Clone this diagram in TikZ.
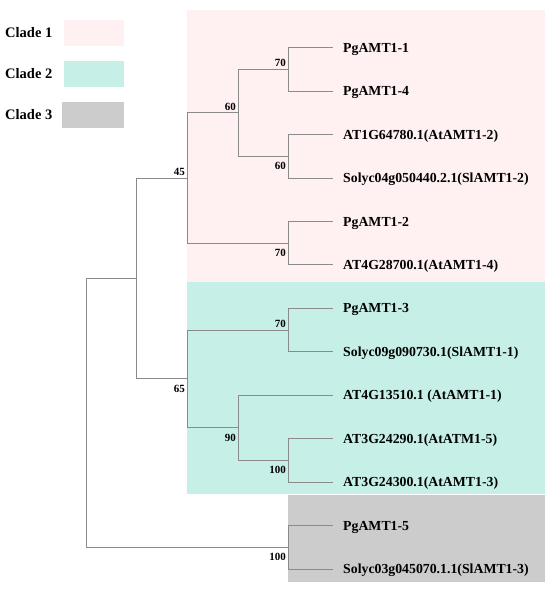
\documentclass[tikz,border=0pt]{standalone}
\usepackage{fontspec}
\setmainfont{Liberation Serif}
\usepackage{xcolor}
\usepackage{tikz}
\usetikzlibrary{positioning}

\definecolor{cladeone}{HTML}{FFF0F2}
\definecolor{cladetwo}{HTML}{C6F0E7}
\definecolor{cladethree}{HTML}{CCCCCC}
\definecolor{branchgray}{HTML}{8A8A8A}

\begin{document}
\begin{tikzpicture}[
  x=1pt, y=-1pt,
  branch/.style={draw=branchgray, line width=0.8pt},
  leaf/.style={
    font=\fontsize{13.8}{16}\selectfont\bfseries,
    inner sep=0pt,
    text height=9.4pt,
    text depth=0pt
  },
  bsabove/.style={
    font=\fontsize{11}{12}\selectfont\bfseries,
    anchor=south east, inner sep=0pt, xshift=-2pt, yshift=2pt
  },
  bsbelow/.style={
    font=\fontsize{11}{12}\selectfont\bfseries,
    anchor=north east, inner sep=0pt, xshift=-2pt, yshift=-6pt
  },
  legendtext/.style={
    font=\fontsize{14.5}{16}\selectfont\bfseries,
    anchor=west, inner sep=0pt
  },
  legendbox/.style={
    minimum width=60pt, minimum height=26pt, inner sep=0pt
  }
]

% page and clade backgrounds
\fill[white] (0,0) rectangle (550,589);
\fill[cladeone] (187,10) rectangle (545,282);
\fill[cladetwo] (187,282) rectangle (545,494);
\fill[cladethree] (288,495) rectangle (545,582);

% ================= Legend =================
\node[legendtext] (clade1_txt) at (5,33) {Clade 1};
\node[legendbox, fill=cladeone] (clade1_box) at (94,33) {};

\node[legendtext] (clade2_txt) at (5,74) {Clade 2};
\node[legendbox, fill=cladetwo] (clade2_box) at (94,74) {};

\node[legendtext] (clade3_txt) at (5,115) {Clade 3};
\node[legendbox, fill=cladethree, minimum width=62pt] (clade3_box) at (93,114.5) {};

% ================= Leaves =================
\coordinate (pg11_end) at (333,47.5);
\coordinate (pg14_end) at (333,91);
\coordinate (at12_end) at (333,134.4);
\coordinate (sl12_end) at (333,177.9);
\coordinate (pg12_end) at (333,221.3);
\coordinate (at14_end) at (333,264.8);
\coordinate (pg13_end) at (333,308.2);
\coordinate (sl11_end) at (333,351.7);
\coordinate (at11_end) at (333,395.1);
\coordinate (at15_end) at (333,438.6);
\coordinate (at13_end) at (333,482);
\coordinate (pg15_end) at (333,525.5);
\coordinate (sl13_end) at (333,569);

\node[leaf, right=10pt of pg11_end] (pg11) {PgAMT1-1};
\node[leaf, right=10pt of pg14_end] (pg14) {PgAMT1-4};
\node[leaf, right=10pt of at12_end] (at12) {AT1G64780.1(AtAMT1-2)};
\node[leaf, right=10pt of sl12_end] (sl12) {Solyc04g050440.2.1(SlAMT1-2)};
\node[leaf, right=10pt of pg12_end] (pg12) {PgAMT1-2};
\node[leaf, right=10pt of at14_end] (at14) {AT4G28700.1(AtAMT1-4)};
\node[leaf, right=10pt of pg13_end] (pg13) {PgAMT1-3};
\node[leaf, right=10pt of sl11_end] (sl11) {Solyc09g090730.1(SlAMT1-1)};
\node[leaf, right=10pt of at11_end] (at11) {AT4G13510.1 (AtAMT1-1)};
\node[leaf, right=10pt of at15_end] (at15) {AT3G24290.1(AtATM1-5)};
\node[leaf, right=10pt of at13_end] (at13) {AT3G24300.1(AtAMT1-3)};
\node[leaf, right=10pt of pg15_end] (pg15) {PgAMT1-5};
\node[leaf, right=10pt of sl13_end] (sl13) {Solyc03g045070.1.1(SlAMT1-3)};

% ================= Inner nodes =================
\coordinate (n_pg1114) at (288,69.3);
\coordinate (n_at12sl12) at (288,156.1);
\coordinate (n_top) at (238,112.7);
\coordinate (n_pg12at14) at (288,243);
\coordinate (n_clade1) at (187,177.9);
\coordinate (n_pg13sl11) at (288,329.9);
\coordinate (n_at15at13) at (288,460.3);
\coordinate (n_at) at (238,427.7);
\coordinate (n_clade2) at (187,378.8);
\coordinate (n_clade12) at (136,278.4);
\coordinate (n_clade3) at (288,547.3);
\coordinate (n_root) at (86,412.8);

% bootstrap values
\node[bsabove] (bs_pg1114) at (n_pg1114) {70};
\node[bsbelow] (bs_at12sl12) at (n_at12sl12) {60};
\node[bsabove] (bs_top) at (n_top) {60};
\node[bsbelow] (bs_pg12at14) at (n_pg12at14) {70};
\node[bsabove] (bs_clade1) at (n_clade1) {45};
\node[bsabove] (bs_pg13sl11) at (n_pg13sl11) {70};
\node[bsbelow] (bs_at15at13) at (n_at15at13) {100};
\node[bsbelow] (bs_at) at (n_at) {90};
\node[bsbelow] (bs_clade2) at (n_clade2) {65};
\node[bsbelow] (bs_clade3) at (n_clade3) {100};

% ================= Branches =================
\draw[branch] (n_pg1114) |- (pg11_end);
\draw[branch] (n_pg1114) |- (pg14_end);
\draw[branch] (n_at12sl12) |- (at12_end);
\draw[branch] (n_at12sl12) |- (sl12_end);
\draw[branch] (n_top) |- (n_pg1114);
\draw[branch] (n_top) |- (n_at12sl12);
\draw[branch] (n_pg12at14) |- (pg12_end);
\draw[branch] (n_pg12at14) |- (at14_end);
\draw[branch] (n_clade1) |- (n_top);
\draw[branch] (n_clade1) |- (n_pg12at14);

\draw[branch] (n_pg13sl11) |- (pg13_end);
\draw[branch] (n_pg13sl11) |- (sl11_end);
\draw[branch] (n_at15at13) |- (at15_end);
\draw[branch] (n_at15at13) |- (at13_end);
\draw[branch] (n_at) |- (at11_end);
\draw[branch] (n_at) |- (n_at15at13);
\draw[branch] (n_clade2) |- (n_pg13sl11);
\draw[branch] (n_clade2) |- (n_at);

\draw[branch] (n_clade12) |- (n_clade1);
\draw[branch] (n_clade12) |- (n_clade2);
\draw[branch] (n_clade3) |- (pg15_end);
\draw[branch] (n_clade3) |- (sl13_end);
\draw[branch] (n_root) |- (n_clade12);
\draw[branch] (n_root) |- (n_clade3);

\end{tikzpicture}
\end{document}
